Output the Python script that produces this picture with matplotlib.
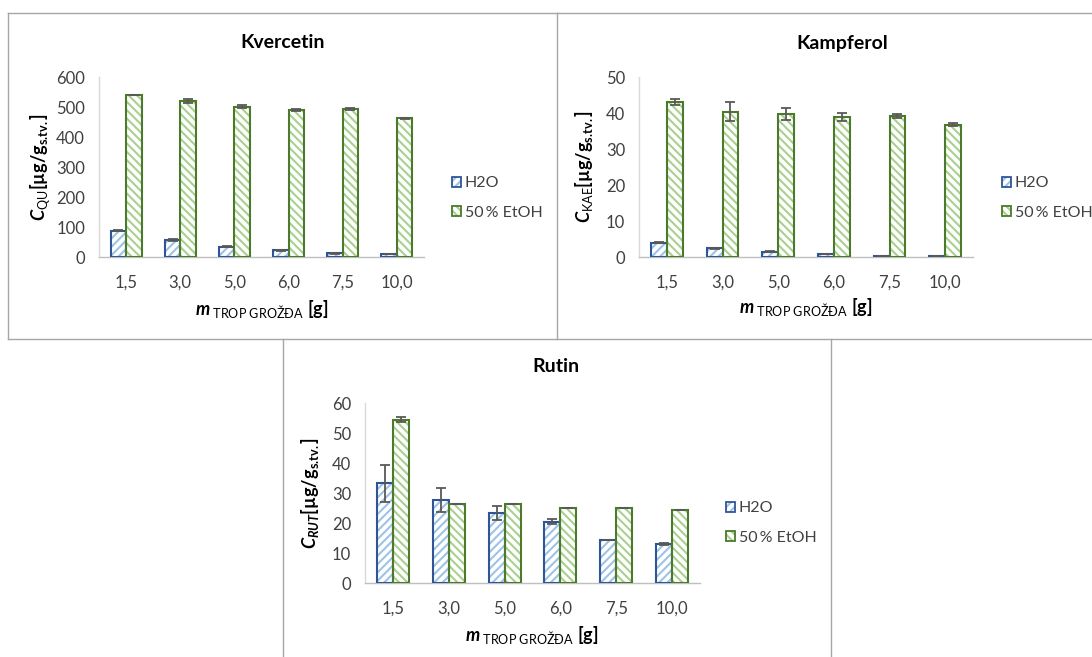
import matplotlib
matplotlib.use("Agg")
import matplotlib.pyplot as plt
import numpy as np
from matplotlib.patches import Patch
from matplotlib.lines import Line2D
from matplotlib.legend_handler import HandlerTuple

plt.rcParams['font.family'] = ['Lato', 'DejaVu Sans']
plt.rcParams['mathtext.fontset'] = 'custom'
plt.rcParams['mathtext.rm'] = 'Lato'
plt.rcParams['mathtext.it'] = 'Lato:italic:bold'
plt.rcParams['mathtext.bf'] = 'Lato:bold'
plt.rcParams['hatch.linewidth'] = 1.5

categories = ["1,5", "3,0", "5,0", "6,0", "7,5", "10,0"]
series_names = ["H2O", "50\u2009% EtOH"]

qu_h2o = [88, 58, 35, 22, 13, 10]
qu_h2o_err = [2, 3, 3, 2, 2, 1]
qu_etoh = [540, 519, 500, 490, 493, 462]
qu_etoh_err = [1, 6, 5, 2, 4, 2]

kae_h2o = [4.0, 2.4, 1.5, 0.9, 0.3, 0.3]
kae_h2o_err = [0.1, 0.15, 0.1, 0.05, 0.05, 0.05]
kae_etoh = [43.0, 40.4, 39.7, 38.9, 39.1, 36.7]
kae_etoh_err = [0.9, 2.6, 1.6, 1.2, 0.6, 0.4]

rut_h2o = [33.2, 27.7, 23.3, 20.4, 14.2, 13.1]
rut_h2o_err = [6.1, 4.1, 2.3, 0.8, 0.0, 0.4]
rut_etoh = [54.5, 26.4, 26.4, 25.0, 25.0, 24.2]
rut_etoh_err = [0.9, 0.0, 0.0, 0.0, 0.0, 0.0]

W, H = 1092, 657
fig = plt.figure(figsize=(W / 100, H / 100), dpi=100)
fig.patch.set_facecolor('white')

BLUE_EDGE = '#2F5597'
BLUE_HATCH = '#9DC3E6'
GREEN_EDGE = '#4B7A2C'
GREEN_HATCH = '#A9D18E'
ERR = '#595959'


def add_ax(x0, y0, x1, y1):
    return fig.add_axes([x0 / W, 1 - y1 / H, (x1 - x0) / W, (y1 - y0) / H])


def draw_panel(box, h2o, h2o_err, etoh, etoh_err, ymax, ystep, title, title_xy,
               ylabel, ylabel_xy, xlabel_xy, legend_xy):
    ax = add_ax(*box)
    x = np.arange(len(categories))
    w = 1 / 3.5
    for vals, errs, off, hc, ec, hatch in [
        (h2o, h2o_err, -w / 2, BLUE_HATCH, BLUE_EDGE, '////'),
        (etoh, etoh_err, w / 2, GREEN_HATCH, GREEN_EDGE, '\\\\\\\\'),
    ]:
        ax.bar(x + off, vals, w, facecolor='white', edgecolor=hc, hatch=hatch,
               linewidth=0, zorder=2)
        ax.bar(x + off, vals, w, fill=False, edgecolor=ec, linewidth=1.5, zorder=3)
        ax.errorbar(x + off, vals, yerr=errs, fmt='none', ecolor=ERR,
                    elinewidth=1.3, capsize=3.5, capthick=1.3, zorder=4)
    ax.set_xlim(-0.5, len(categories) - 0.5)
    ax.set_ylim(0, ymax)
    ax.set_yticks(np.arange(0, ymax + ystep / 2, ystep))
    ax.set_xticks(x)
    ax.set_xticklabels(categories)
    for s in ['top', 'right']:
        ax.spines[s].set_visible(False)
    ax.spines['left'].set_color('#D9D9D9')
    ax.spines['bottom'].set_color('#BFBFBF')
    ax.spines['left'].set_linewidth(1.0)
    ax.spines['bottom'].set_linewidth(1.0)
    ax.tick_params(axis='both', length=0, labelsize=12, colors='#404040')
    ax.tick_params(axis='x', pad=13)
    ax.tick_params(axis='y', pad=10)
    ax.set_facecolor('none')

    fig.text(title_xy[0] / W, 1 - title_xy[1] / H, title, ha='center', va='center',
             fontsize=14, fontweight='bold', color='black')
    fig.text(ylabel_xy[0] / W, 1 - ylabel_xy[1] / H, ylabel, ha='center', va='center',
             rotation=90, fontsize=13, color='black')
    fig.text(xlabel_xy[0] / W, 1 - xlabel_xy[1] / H,
             r'$\mathit{m}_{\mathrm{\ TROP\ GROŽĐA}}\ \mathbf{[g]}$',
             ha='center', va='center', fontsize=13, color='black')

    handles = [
        (Patch(facecolor='white', edgecolor=BLUE_HATCH, hatch='////', linewidth=0),
         Patch(fill=False, edgecolor=BLUE_EDGE, linewidth=1.3)),
        (Patch(facecolor='white', edgecolor=GREEN_HATCH, hatch='\\\\\\\\', linewidth=0),
         Patch(fill=False, edgecolor=GREEN_EDGE, linewidth=1.3)),
    ]
    ax.legend(handles, series_names, handler_map={tuple: HandlerTuple(ndivide=1, pad=0)},
              loc='center left', bbox_to_anchor=(legend_xy[0] / W, 1 - legend_xy[1] / H),
              bbox_transform=fig.transFigure, frameon=False, fontsize=11.5,
              handlelength=0.55, handleheight=0.55, handletextpad=0.25,
              labelspacing=0.95, borderaxespad=0, borderpad=0, labelcolor='#404040')
    return ax


YL = r'\mathbf{[µg/g_{s.\!tv.}]}$'
draw_panel((99, 77, 424, 257), qu_h2o, qu_h2o_err, qu_etoh, qu_etoh_err, 600, 100,
           'Kvercetin', (283, 43),
           r'$\mathit{C}_{\mathrm{QU}}' + YL, (40, 167), (262, 309), (452, 198))
draw_panel((639, 77, 973, 257), kae_h2o, kae_h2o_err, kae_etoh, kae_etoh_err, 50, 10,
           'Kampferol', (842, 43),
           r'$\mathit{C}_{\mathrm{KAE}}' + YL, (584, 167), (806, 307), (1002, 198))
draw_panel((365, 403, 700, 583), rut_h2o, rut_h2o_err, rut_etoh, rut_etoh_err, 60, 10,
           'Rutin', (556, 367),
           r'$\mathit{C}_{\mathit{RUT}}' + YL, (310, 493), (532, 635), (726, 523))

# panel borders
BORDER = '#A6A6A6'
segs = [
    [(8, 13), (557, 13)], [(8, 13), (8, 339)], [(8, 339), (1092, 339)],
    [(557, 13), (557, 339)], [(557, 13), (1092, 13)],
    [(283, 339), (283, 657)], [(831, 339), (831, 657)],
]
for (xa, ya), (xb, yb) in segs:
    fig.add_artist(Line2D([xa / W, xb / W], [1 - ya / H, 1 - yb / H],
                          transform=fig.transFigure, color=BORDER, linewidth=1.0))

fig.savefig('out.png', dpi=100, facecolor='white')
